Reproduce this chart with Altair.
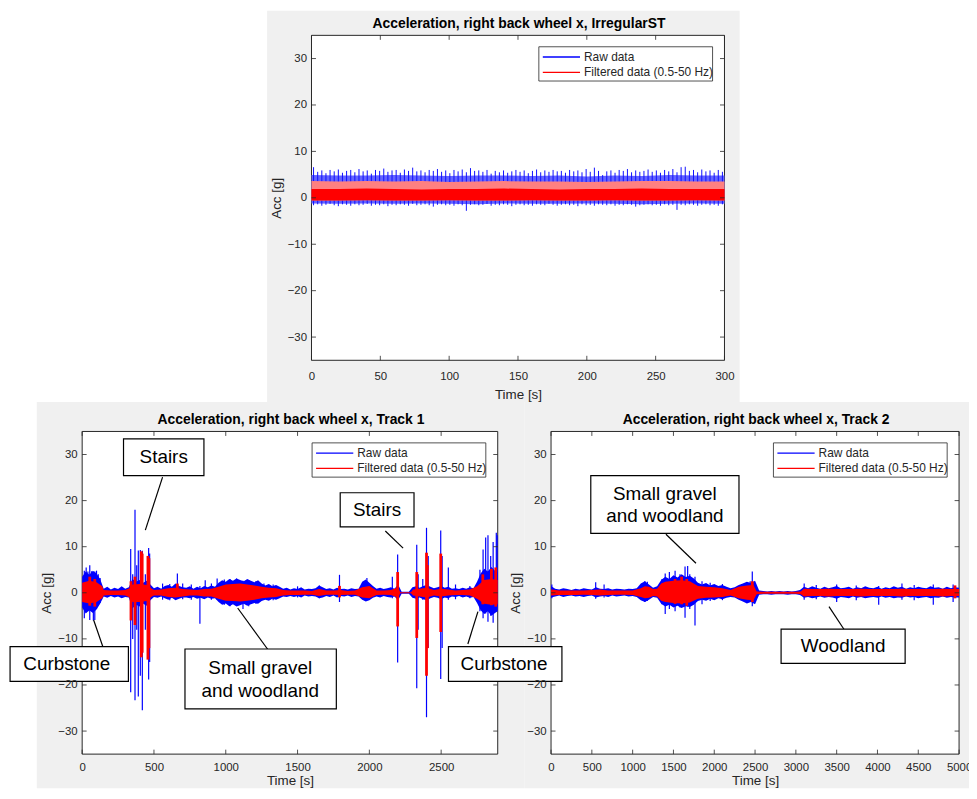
import altair as alt
import pandas as pd

# whole canvas, in page pixels minus the 8px body margin
W, H = 968, 783
FONT = "Liberation Sans"
INK = "#262626"
FIG_BG = "#f0f0f0"
BLUE = "#0000ff"
RED = "#ff0000"

Y_TICKS = [-30, -20, -10, 0, 10, 20, 30]

# ---------------- IrregularST (top) ----------------
TOP_XTICKS = [0, 50, 100, 150, 200, 250, 300]
TOP_T = [0, 20, 40, 60, 80, 100, 120, 140, 160, 180, 200, 220, 240, 260, 280, 300]
TOP_RAW_HI = [4.9, 4.8, 4.8, 4.9, 4.8, 4.7, 4.8, 4.8, 4.7, 4.8, 4.6, 4.8, 4.7, 4.9, 4.8, 4.8]
TOP_RAW_LO = [-1.2, -1.3, -1.2, -1.3, -1.2, -1.3, -1.4, -1.2, -1.3, -1.3, -1.2, -1.3, -1.4, -1.3, -1.2, -1.3]
TOP_FILT_HI = [3.6, 3.5, 3.6, 3.5, 3.6, 3.4, 3.5, 3.6, 3.5, 3.5, 3.4, 3.5, 3.6, 3.6, 3.5, 3.5]
TOP_FILT_MID = [1.9, 1.9, 2.0, 1.9, 1.8, 1.9, 1.9, 2.0, 1.9, 1.8, 1.9, 1.9, 2.0, 1.9, 1.9, 1.9]
TOP_FILT_LO = [-0.6, -0.6, -0.5, -0.6, -0.6, -0.5, -0.6, -0.6, -0.5, -0.6, -0.6, -0.5, -0.6, -0.6, -0.5, -0.6]

# one stripe every 3 s
TOP_SPIKE_T = [1.5 + 3 * k for k in range(100)]
TOP_SPIKE_HI = [
    6.6, 5.6, 5.9, 5.3, 6.0, 5.7, 6.1, 5.4, 5.8, 6.0,
    5.5, 6.2, 5.7, 5.9, 5.2, 6.0, 5.8, 6.3, 5.6, 5.9,
    6.0, 5.4, 6.1, 5.8, 6.5, 5.7, 5.9, 5.5, 6.0, 5.8,
    6.2, 5.6, 5.9, 5.3, 6.0, 5.7, 6.1, 5.5, 6.4, 5.8,
    5.9, 5.6, 6.0, 5.2, 5.8, 5.5, 5.9, 5.4, 5.7, 6.0,
    5.6, 5.9, 5.3, 5.8, 6.1, 5.5, 5.9, 5.6, 6.0, 5.7,
    5.8, 5.4, 6.0, 5.7, 5.9, 5.5, 6.2, 5.6, 6.5, 5.8,
    4.9, 5.7, 5.9, 5.4, 6.0, 5.8, 6.2, 5.5, 5.9, 5.6,
    5.8, 6.1, 5.6, 5.9, 5.4, 6.0, 5.7, 6.2, 5.5, 6.6,
    6.7, 5.8, 6.0, 5.5, 6.1, 5.7, 5.9, 5.4, 6.0, 5.6,
]
TOP_SPIKE_LO = [
    -1.6, -1.4, -1.7, -1.5, -1.3, -1.6, -1.8, -1.4, -1.5, -1.7,
    -1.4, -1.6, -1.5, -1.3, -1.7, -1.5, -1.6, -1.4, -1.8, -1.5,
    -1.6, -1.4, -1.5, -1.7, -1.3, -1.6, -1.5, -1.4, -1.6, -1.9,
    -1.5, -1.4, -1.6, -1.5, -1.7, -1.4, -1.6, -2.8, -1.5, -1.4,
    -1.6, -1.5, -1.3, -1.7, -1.5, -1.6, -1.4, -1.5, -1.8, -1.5,
    -1.4, -1.6, -1.5, -1.7, -1.4, -1.5, -1.6, -1.3, -1.5, -1.7,
    -1.5, -1.4, -1.6, -1.5, -1.8, -1.4, -1.6, -1.5, -1.7, -1.4,
    -1.5, -1.6, -1.4, -1.7, -1.5, -1.6, -1.4, -1.5, -1.9, -1.6,
    -1.5, -1.4, -1.6, -1.5, -1.7, -1.4, -1.6, -1.5, -2.6, -1.5,
    -1.6, -1.4, -1.5, -1.7, -1.5, -1.4, -1.6, -1.5, -1.7, -1.4,
]

# ---------------- Track 1 (bottom left) ----------------
T1_XTICKS = [0, 500, 1000, 1500, 2000, 2500]
# raw envelope, one reading every 25 s
T1_RAW_T = [25 * k for k in range(116)] + [2894]
T1_RAW_HI = [3.5, 4.6, 3.9, 4.8, 4.2, 3.0,
             0.9, 1.3, 0.7, 1.1, 0.8, 1.4, 0.9, 1.2,
             3.0, 2.4, 2.8, 2.2, 2.6, 1.8,
             1.0, 1.3, 0.9, 1.5,
             1.7, 1.3, 2.0, 1.5, 1.2,
             1.1, 1.4, 0.9, 1.3, 1.0, 1.5, 1.2, 1.6, 1.3,
             2.2, 2.7, 2.4, 3.0, 2.6, 3.1, 2.8, 2.5, 3.0, 2.6, 2.3, 2.7,
             2.0, 1.6, 1.9, 1.4, 1.7, 1.3,
             0.9, 1.1, 0.7, 1.0, 0.8, 1.2, 0.7, 0.9, 0.8, 1.0,
             1.6, 1.2,
             0.8, 1.0, 0.7, 1.1, 0.8, 0.9, 0.7, 1.0, 0.8, 0.9,
             2.4, 2.9, 2.2, 1.5,
             0.9, 1.1, 0.8, 1.0, 1.2, 0.9, 1.8,
             0.2, 0.2, 0.2,
             1.2, 1.4, 1.1, 1.5, 1.7, 1.3, 1.0, 1.2, 1.5, 1.1, 1.3, 0.9, 1.0, 0.8, 1.1, 0.9, 1.2, 1.0,
             2.4, 4.2, 5.2, 4.6, 5.6, 4.8,
             4.5]
T1_RAW_LO = [-3.2, -4.5, -3.8, -4.4, -3.6, -2.4,
             -0.8, -1.1, -0.7, -1.0, -0.8, -1.2, -0.9, -1.0,
             -3.4, -2.6, -3.0, -2.4, -2.8, -1.6,
             -0.9, -1.1, -0.8, -1.2,
             -1.5, -1.1, -1.6, -1.3, -1.0,
             -1.0, -1.2, -0.9, -1.3, -1.1, -1.4, -1.0, -1.3, -1.2,
             -2.0, -2.6, -2.3, -2.9, -2.5, -3.0, -2.7, -2.4, -2.8, -2.5, -2.2, -2.4,
             -1.8, -1.5, -1.7, -1.3, -1.5, -1.2,
             -0.8, -0.9, -0.7, -0.9, -0.7, -1.0, -0.6, -0.8, -0.7, -0.8,
             -1.2, -1.0,
             -0.7, -0.9, -0.6, -1.0, -0.7, -0.8, -0.6, -0.9, -0.7, -0.8,
             -1.5, -1.9, -1.6, -1.1,
             -0.8, -1.0, -0.7, -0.9, -1.0, -0.8, -1.6,
             -0.2, -0.2, -0.2,
             -1.1, -1.3, -1.0, -1.4, -1.6, -1.2, -0.9, -1.1, -1.4, -1.0, -1.2, -0.8, -0.9, -0.7, -1.0, -0.8, -1.1, -0.9,
             -2.2, -3.8, -4.6, -4.0, -5.0, -4.4,
             -4.0]
# filtered envelope, coarser
T1_T = [0, 50, 100, 140, 150, 200, 250, 300, 330, 350,
        400, 450, 480, 500, 550, 600, 650, 700, 750, 800,
        850, 900, 950, 1000, 1050, 1100, 1150, 1200, 1250, 1300,
        1350, 1400, 1450, 1500, 1550, 1600, 1650, 1700, 1750, 1800,
        1850, 1900, 1950, 2000, 2050, 2100, 2150, 2200, 2215, 2290,
        2305, 2350, 2400, 2450, 2500, 2550, 2600, 2650, 2700, 2750,
        2800, 2850, 2894]
T1_FILT_HI = [2.2, 2.6, 2.3, 1.4, 0.6, 0.5, 0.5, 0.6, 1.0, 1.8,
              1.9, 1.7, 1.0, 0.6, 0.7, 1.0, 1.1, 0.8, 0.7, 0.6,
              0.8, 0.9, 1.3, 1.8, 1.9, 2.0, 1.8, 1.6, 1.3, 1.1,
              1.0, 0.6, 0.5, 0.5, 0.5, 0.4, 0.8, 0.5, 0.5, 0.6,
              0.4, 0.5, 1.2, 1.5, 0.5, 0.5, 0.6, 1.2, 0.1, 0.1,
              0.7, 0.9, 1.1, 0.6, 0.9, 0.7, 0.5, 0.6, 0.7, 1.4,
              2.8, 3.0, 2.8]
T1_FILT_LO = [-2.0, -2.3, -2.0, -1.2, -0.6, -0.5, -0.5, -0.6, -1.0, -2.0,
              -2.0, -1.8, -0.9, -0.6, -0.6, -0.9, -1.0, -0.8, -0.6, -0.6,
              -0.8, -0.8, -1.3, -1.7, -1.8, -1.9, -1.7, -1.5, -1.2, -1.0,
              -0.9, -0.6, -0.5, -0.5, -0.4, -0.4, -0.7, -0.4, -0.4, -0.5,
              -0.4, -0.4, -1.0, -1.2, -0.5, -0.4, -0.5, -1.1, -0.1, -0.1,
              -0.6, -0.8, -1.0, -0.6, -0.8, -0.6, -0.5, -0.5, -0.6, -1.3,
              -2.4, -2.6, -2.5]

T1_RAW_SPK_T = [15, 28, 40, 53, 66, 78, 88, 100, 112, 125,
                338, 352, 368, 380, 391, 405, 419, 440, 463, 470,
                560, 610, 663, 700, 760, 820, 857, 900, 940, 990,
                1030, 1075, 1120, 1160, 1210, 1266, 1330, 1500, 1652, 1792,
                1983, 2020, 2160, 2197, 2330, 2340, 2372, 2398, 2410, 2497,
                2507, 2550, 2600, 2700, 2770, 2792, 2810, 2826, 2845, 2862,
                2884, 2890]
T1_RAW_SPK_HI = [4.8, 5.5, 4.6, 6.0, 4.7, 4.5, 4.6, 4.8, 4.0, 3.2,
                 9.5, 4.0, 18.0, 6.0, 9.2, 9.3, 9.1, 4.0, 9.7, 8.5,
                 2.0, 1.9, 4.2, 2.0, 1.8, 1.5, 2.7, 2.0, 3.1, 2.9,
                 3.0, 3.1, 2.6, 2.8, 2.5, 2.0, 1.8, 1.4, 1.6, 3.9,
                 3.2, 1.5, 3.5, 8.3, 10.4, 4.0, 3.0, 14.1, 8.0, 13.5,
                 8.0, 5.5, 1.8, 1.5, 5.0, 9.4, 12.0, 12.5, 8.0, 11.0,
                 13.0, 12.5]
T1_RAW_SPK_LO = [-5.5, -3.0, -4.0, -5.9, -4.0, -6.0, -5.9, -3.5, -2.5, -2.2,
                 -21.6, -10.0, -23.3, -8.0, -22.5, -18.0, -25.5, -8.0, -18.8, -15.0,
                 -1.5, -1.6, -1.2, -1.4, -1.5, -6.7, -1.0, -1.5, -1.5, -2.6,
                 -2.9, -2.7, -3.5, -2.9, -2.4, -1.5, -1.6, -1.0, -1.2, -2.0,
                 -1.5, -1.0, -1.2, -15.1, -20.7, -8.0, -1.5, -27.0, -12.0, -18.7,
                 -12.0, -1.5, -1.4, -1.2, -4.0, -5.5, -4.5, -6.3, -5.0, -6.5,
                 -4.0, -3.0]
T1_FILT_SPK_T = [53, 88, 340, 368, 412, 418, 458, 465, 663, 1792,
                 2197, 2330, 2398, 2404, 2497, 2790, 2850, 2880]
T1_FILT_SPK_HI = [3.5, 3.0, 2.5, 3.5, 9.0, 8.5, 8.0, 7.5, 2.0, 1.5,
                  4.5, 4.5, 8.7, 6.0, 8.5, 4.0, 5.2, 5.5]
T1_FILT_SPK_LO = [-2.8, -3.0, -6.0, -7.0, -14.0, -13.0, -14.5, -12.0, -0.8, -1.0,
                  -7.3, -9.8, -18.0, -12.0, -8.5, -2.5, -2.7, -3.0]

# ---------------- Track 2 (bottom right) ----------------
T2_XTICKS = [0, 500, 1000, 1500, 2000, 2500, 3000, 3500, 4000, 4500, 5000]
# raw envelope, one reading every 50 s
T2_RAW_T = [50 * k for k in range(101)]
T2_RAW_HI = [1.5, 0.9, 0.7, 1.0, 0.8, 0.6, 0.9, 0.7, 1.0, 0.8,
             0.7, 1.2, 0.9, 0.8, 1.0, 0.7, 0.9, 0.8, 0.7, 0.9,
             0.8, 1.0,
             2.0, 2.5, 1.8, 1.1, 1.4,
             2.8, 3.5, 3.0, 3.8, 3.3, 4.0, 3.4, 3.7, 3.1,
             2.2, 1.8, 2.1, 1.6, 1.9, 1.5, 1.7, 1.3, 1.0,
             1.2, 1.7,
             2.0, 2.4, 2.1, 2.6,
             0.5, 0.4, 0.3, 0.4, 0.3, 0.4, 0.3, 0.4, 0.3, 0.4, 0.6,
             1.3, 1.0, 1.4, 1.1, 0.9, 1.3, 1.0, 1.2, 1.5, 1.0,
             1.1, 1.3, 0.9, 1.2, 1.0, 1.4, 1.1, 1.0, 1.3, 0.9,
             1.2, 1.0, 1.4, 1.1, 1.3, 0.9, 1.2, 1.0, 1.3, 1.1,
             1.0, 1.4, 1.1, 1.2, 0.9, 1.3, 1.0, 1.2, 1.1]
T2_RAW_LO = [-1.0, -0.8, -0.6, -0.9, -0.7, -0.6, -0.8, -0.7, -0.9, -0.7,
             -0.6, -1.0, -0.8, -0.7, -0.9, -0.6, -0.8, -0.7, -0.6, -0.8,
             -0.7, -0.9,
             -1.6, -2.0, -1.5, -0.9, -1.1,
             -2.4, -3.0, -2.6, -3.2, -2.8, -3.3, -2.9, -3.1, -2.6,
             -1.8, -1.5, -1.7, -1.3, -1.6, -1.2, -1.4, -1.1, -0.9,
             -1.0, -1.5,
             -1.9, -2.3, -2.0, -2.5,
             -0.4, -0.3, -0.3, -0.4, -0.3, -0.3, -0.3, -0.4, -0.3, -0.3, -0.5,
             -1.1, -0.9, -1.2, -1.0, -0.8, -1.1, -0.9, -1.0, -1.3, -0.9,
             -1.0, -1.2, -0.8, -1.1, -0.9, -1.2, -1.0, -0.9, -1.1, -0.8,
             -1.1, -0.9, -1.2, -1.0, -1.1, -0.8, -1.0, -0.9, -1.2, -1.0,
             -0.9, -1.2, -1.0, -1.1, -0.8, -1.1, -0.9, -1.0, -1.0]
# filtered envelope, coarser
T2_T = [0, 100, 200, 300, 400, 500, 600, 700, 800, 900,
        1000, 1100, 1150, 1200, 1250, 1300, 1350, 1400, 1500, 1600,
        1700, 1800, 1900, 2000, 2100, 2200, 2300, 2400, 2480, 2520,
        2600, 2700, 2800, 2900, 3000, 3060, 3100, 3200, 3300, 3400,
        3500, 3600, 3700, 3800, 3900, 4000, 4100, 4200, 4300, 4400,
        4500, 4600, 4700, 4800, 4900, 5000]
T2_FILT_HI = [0.7, 0.5, 0.5, 0.5, 0.5, 0.6, 0.7, 0.5, 0.5, 0.5,
              0.5, 1.0, 1.4, 1.3, 0.8, 0.9, 2.0, 2.4, 2.6, 2.7,
              2.5, 1.5, 1.3, 1.2, 1.0, 0.6, 1.3, 1.6, 1.7, 0.3,
              0.2, 0.2, 0.2, 0.2, 0.2, 0.3, 0.9, 0.8, 0.8, 0.9,
              0.8, 0.8, 0.8, 0.9, 0.8, 0.8, 0.8, 0.8, 0.9, 0.8,
              0.8, 0.8, 0.8, 0.9, 0.8, 0.8]
T2_FILT_LO = [-0.6, -0.5, -0.5, -0.5, -0.4, -0.5, -0.6, -0.5, -0.4, -0.4,
              -0.5, -0.9, -1.2, -1.1, -0.7, -0.8, -1.7, -2.0, -2.2, -2.3,
              -2.1, -1.3, -1.1, -1.0, -0.9, -0.6, -1.2, -1.5, -1.6, -0.3,
              -0.2, -0.2, -0.2, -0.2, -0.2, -0.3, -0.8, -0.7, -0.7, -0.8,
              -0.7, -0.7, -0.7, -0.8, -0.7, -0.7, -0.7, -0.7, -0.8, -0.7,
              -0.7, -0.7, -0.7, -0.8, -0.7, -0.7]
T2_RAW_SPK_T = [10, 547, 650, 1150, 1180, 1360, 1399, 1450, 1520, 1580,
                1642, 1674, 1700, 1764, 1850, 1950, 2100, 2440, 2466, 3102,
                3250, 3500, 3740, 4015, 4300, 4450, 4684, 4927]
T2_RAW_SPK_HI = [1.8, 2.3, 1.8, 2.5, 2.4, 3.0, 4.2, 4.5, 4.8, 4.0,
                 5.7, 5.8, 4.0, 3.5, 2.5, 2.2, 1.9, 2.5, 4.6, 2.0,
                 1.7, 1.8, 1.6, 1.5, 2.0, 1.7, 1.8, 1.8]
T2_RAW_SPK_LO = [-1.2, -1.3, -1.0, -2.0, -1.8, -2.5, -4.6, -3.5, -4.0, -3.2,
                 -5.4, -3.0, -3.5, -7.1, -2.5, -1.8, -1.6, -2.0, -2.9, -1.5,
                 -1.4, -2.0, -1.6, -2.6, -1.5, -1.6, -2.6, -2.0]
T2_FILT_SPK_T = [1520, 1600, 1663, 2466, 4950]
T2_FILT_SPK_HI = [3.0, 3.5, 3.0, 2.5, 1.6]
T2_FILT_SPK_LO = [-2.4, -2.5, -2.8, -2.0, -1.2]

# ---------------- annotations (data units of their panel) ----------------
T1_BOX_T = [288, 1797, -502, 716, 2551]
T1_BOX_T2 = [848, 2311, 322, 1770, 3341]
T1_BOX_A = [33.4, 21.7, -11.7, -12.2, -11.7]
T1_BOX_A2 = [25.4, 14.3, -19.2, -25.2, -19.2]
T1_TXT = ["Stairs", "Stairs", "Curbstone", "Small gravel", "and woodland", "Curbstone"]
T1_TXT_T = [568, 2054, -107, 1240, 1240, 2938]
T1_TXT_A = [29.4, 18.0, -15.4, -16.3, -21.3, -15.4]
T1_LINE_T = [560, 2111, 152, 1293, 2686]
T1_LINE_T2 = [440, 2235, 80, 1083, 2756]
T1_LINE_A = [25.1, 13.4, -12.4, -12.3, -11.1]
T1_LINE_A2 = [13.6, 9.7, -5.9, -3.3, -4.1]

T2_BOX_T = [487, 2819]
T2_BOX_T2 = [2303, 4339]
T2_BOX_A = [25.4, -7.9]
T2_BOX_A2 = [12.9, -15.3]
T2_TXT = ["Small gravel", "and woodland", "Woodland"]
T2_TXT_T = [1395, 1395, 3579]
T2_TXT_A = [21.5, 16.7, -11.6]
T2_LINE_T = [1408, 3589]
T2_LINE_T2 = [1776, 3406]
T2_LINE_A = [12.7, -7.9]
T2_LINE_A2 = [6.4, -3.0]

# plot areas on the canvas; lpad/tpad = x label and x title padding
PANELS = {
    "top": dict(left=305.7, right=721.7, top=24.7, bottom=352.0, xmax=300, xticks=TOP_XTICKS,
                lpad=10, tpad=6,
                title="Acceleration, right back wheel x, IrregularST", bg=(261, 737, 0, 394)),
    "t1": dict(left=74.7, right=493.3, top=423.7, bottom=748.7, xmax=2894, xticks=T1_XTICKS,
               lpad=8, tpad=0,
               title="Acceleration, right back wheel x, Track 1", bg=(29, 520, 394, 783)),
    "t2": dict(left=547.0, right=958.0, top=423.7, bottom=748.7, xmax=5000, xticks=T2_XTICKS,
               lpad=8, tpad=0,
               title="Acceleration, right back wheel x, Track 2", bg=(520, 968, 394, 783)),
}

one = pd.DataFrame({"k": [0]})


def px_rect(x0, x1, y0, y1, **kw):
    return alt.Chart(one).mark_rect(**kw).encode(
        x=alt.value(x0), x2=alt.value(x1), y=alt.value(y0), y2=alt.value(y1))


def span(t, lo, hi):
    return pd.DataFrame({"t": t, "a": lo, "a2": hi})


def encodings(p):
    X = alt.X("t:Q",
              scale=alt.Scale(domain=[0, p["xmax"]], range=[p["left"], p["right"]], nice=False, zero=False),
              axis=alt.Axis(values=p["xticks"], format="d", title="Time [s]", orient="bottom",
                            offset=p["bottom"] - H,
                            domain=False, ticks=False, grid=False, labelFlush=False, labelPadding=p["lpad"],
                            labelFont=FONT, labelFontSize=11.5, labelColor=INK,
                            titleFont=FONT, titleFontSize=13.5, titleFontWeight="normal",
                            titleColor=INK, titlePadding=p["tpad"], zindex=1))
    Y = alt.Y("a:Q",
              scale=alt.Scale(domain=[-35, 35], range=[p["bottom"], p["top"]], nice=False, zero=False),
              axis=alt.Axis(values=Y_TICKS, title="Acc [g]", orient="left", offset=-p["left"],
                            domain=False, ticks=False, grid=False, labelFlush=False, labelPadding=5,
                            labelFont=FONT, labelFontSize=11.5, labelColor=INK,
                            titleFont=FONT, titleFontSize=13.5, titleFontWeight="normal",
                            titleColor=INK, titlePadding=4, zindex=1))
    return X, Y


def ticks(p, X, Y):
    xt = alt.Chart(pd.DataFrame({"t": p["xticks"]}))
    yt = alt.Chart(pd.DataFrame({"a": Y_TICKS}))
    style = dict(color=INK, strokeWidth=0.8)
    return [
        xt.mark_rule(**style).encode(x=X, y=alt.value(p["bottom"]), y2=alt.value(p["bottom"] - 4.5)),
        xt.mark_rule(**style).encode(x=X, y=alt.value(p["top"]), y2=alt.value(p["top"] + 4.5)),
        yt.mark_rule(**style).encode(y=Y, x=alt.value(p["left"]), x2=alt.value(p["left"] + 4.5)),
        yt.mark_rule(**style).encode(y=Y, x=alt.value(p["right"]), x2=alt.value(p["right"] - 4.5)),
    ]


def annotations(X, Y, boxes, lines, texts):
    return [
        alt.Chart(lines).mark_rule(color="black", strokeWidth=1.2).encode(
            x=X, x2="t2:Q", y=Y, y2="a2:Q"),
        alt.Chart(boxes).mark_rect(fill="white", stroke="black", strokeWidth=1.2).encode(
            x=X, x2="t2:Q", y=Y, y2="a2:Q"),
        alt.Chart(texts).mark_text(font=FONT, fontSize=19, color="black", baseline="middle").encode(
            x=X, y=Y, text="label:N"),
    ]


def legend(p):
    r = p["right"] - 12
    l = r - 175
    t = p["top"] + 11.5
    parts = [px_rect(l, r, t, t + 34.5, fill="white", stroke=INK, strokeWidth=0.8)]
    for label, color, dy in [("Raw data", BLUE, 10.3), ("Filtered data (0.5-50 Hz)", RED, 25.7)]:
        parts.append(alt.Chart(one).mark_rule(color=color, strokeWidth=1.3).encode(
            x=alt.value(l + 4), x2=alt.value(l + 41.5), y=alt.value(t + dy)))
        parts.append(alt.Chart(one).mark_text(text=label, font=FONT, fontSize=12, color=INK,
                                              align="left", baseline="middle").encode(
            x=alt.value(l + 45.5), y=alt.value(t + dy)))
    return parts


def signal(X, Y, raw_env, raw_spk, filt_env, filt_spk):
    return [
        alt.Chart(raw_env).mark_area(color=BLUE).encode(x=X, y=Y, y2="a2:Q"),
        alt.Chart(raw_spk).mark_rule(color=BLUE, strokeWidth=1.2).encode(x=X, y=Y, y2="a2:Q"),
        alt.Chart(filt_env).mark_area(color=RED).encode(x=X, y=Y, y2="a2:Q"),
        alt.Chart(filt_spk).mark_rule(color=RED, strokeWidth=2.8).encode(x=X, y=Y, y2="a2:Q"),
    ]


# ---------------- background: figure grey, white axes, box, titles ----------------
bg_parts = []
for key in ["top", "t1", "t2"]:
    p = PANELS[key]
    gx0, gx1, gy0, gy1 = p["bg"]
    bg_parts.append(px_rect(gx0, gx1, gy0, gy1, fill=FIG_BG))
for key in ["top", "t1", "t2"]:
    p = PANELS[key]
    bg_parts.append(px_rect(p["left"], p["right"], p["top"], p["bottom"], fill="white"))
    bg_parts.append(px_rect(p["left"], p["right"], p["top"], p["bottom"],
                            fillOpacity=0, stroke=INK, strokeWidth=1))
    bg_parts.append(alt.Chart(one).mark_text(text=p["title"], font=FONT, fontSize=14, fontWeight="bold",
                                             color="black", baseline="middle").encode(
        x=alt.value((p["left"] + p["right"]) / 2 + 1), y=alt.value(p["top"] - 11.5)))
background = alt.layer(*bg_parts)

# ---------------- top panel ----------------
p = PANELS["top"]
X, Y = encodings(p)
top_panel = alt.layer(
    alt.Chart(span(TOP_T, TOP_RAW_LO, TOP_RAW_HI)).mark_area(color="#6464ff").encode(x=X, y=Y, y2="a2:Q"),
    alt.Chart(span(TOP_SPIKE_T, TOP_SPIKE_LO, TOP_SPIKE_HI)).mark_rule(color="#1010ff", strokeWidth=1).encode(
        x=X, y=Y, y2="a2:Q"),
    alt.Chart(span(TOP_T, TOP_FILT_LO, TOP_FILT_HI)).mark_area(color="#ff8080").encode(x=X, y=Y, y2="a2:Q"),
    alt.Chart(span(TOP_T, TOP_FILT_LO, TOP_FILT_MID)).mark_area(color=RED).encode(x=X, y=Y, y2="a2:Q"),
    *ticks(p, X, Y),
)

# ---------------- Track 1 ----------------
p = PANELS["t1"]
X, Y = encodings(p)
t1_panel = alt.layer(
    *signal(X, Y,
            span(T1_RAW_T, T1_RAW_LO, T1_RAW_HI),
            span(T1_RAW_SPK_T, T1_RAW_SPK_LO, T1_RAW_SPK_HI),
            span(T1_T, T1_FILT_LO, T1_FILT_HI),
            span(T1_FILT_SPK_T, T1_FILT_SPK_LO, T1_FILT_SPK_HI)),
    *ticks(p, X, Y),
    *annotations(
        X, Y,
        pd.DataFrame({"t": T1_BOX_T, "t2": T1_BOX_T2, "a": T1_BOX_A, "a2": T1_BOX_A2}),
        pd.DataFrame({"t": T1_LINE_T, "t2": T1_LINE_T2, "a": T1_LINE_A, "a2": T1_LINE_A2}),
        pd.DataFrame({"t": T1_TXT_T, "a": T1_TXT_A, "label": T1_TXT}),
    ),
)

# ---------------- Track 2 ----------------
p = PANELS["t2"]
X, Y = encodings(p)
t2_panel = alt.layer(
    *signal(X, Y,
            span(T2_RAW_T, T2_RAW_LO, T2_RAW_HI),
            span(T2_RAW_SPK_T, T2_RAW_SPK_LO, T2_RAW_SPK_HI),
            span(T2_T, T2_FILT_LO, T2_FILT_HI),
            span(T2_FILT_SPK_T, T2_FILT_SPK_LO, T2_FILT_SPK_HI)),
    *ticks(p, X, Y),
    *annotations(
        X, Y,
        pd.DataFrame({"t": T2_BOX_T, "t2": T2_BOX_T2, "a": T2_BOX_A, "a2": T2_BOX_A2}),
        pd.DataFrame({"t": T2_LINE_T, "t2": T2_LINE_T2, "a": T2_LINE_A, "a2": T2_LINE_A2}),
        pd.DataFrame({"t": T2_TXT_T, "a": T2_TXT_A, "label": T2_TXT}),
    ),
)

legends = alt.layer(*legend(PANELS["top"]), *legend(PANELS["t1"]), *legend(PANELS["t2"]))

chart = (
    alt.layer(background, top_panel, t1_panel, t2_panel, legends)
    .resolve_scale(x="independent", y="independent")
    .properties(width=W, height=H, padding=0, autosize=alt.AutoSizeParams(type="none"),
                background="white")
    .configure_view(strokeWidth=0)
)

chart.save("out.html", embed_options={"renderer": "svg", "actions": False})
